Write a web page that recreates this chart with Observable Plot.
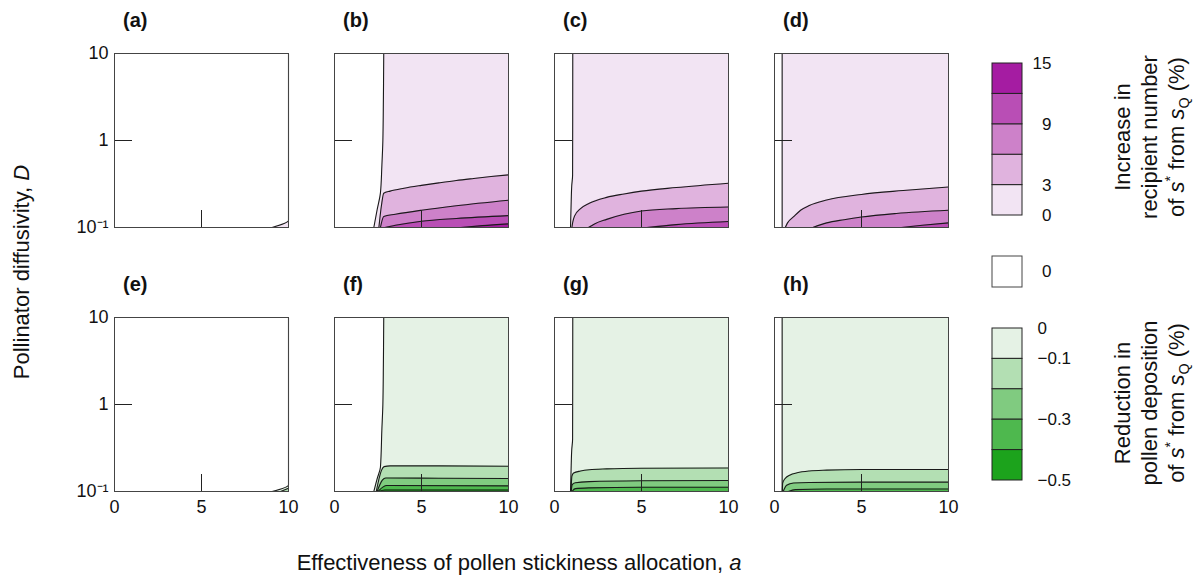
<!DOCTYPE html>
<html><head><meta charset="utf-8">
<script src="https://cdn.jsdelivr.net/npm/d3@7"></script>
<script src="https://cdn.jsdelivr.net/npm/@observablehq/plot@0.6"></script>
<style>
body{margin:0;background:#fff;font-family:'Liberation Sans',Arial,sans-serif;color:#111;}
#root{position:relative;width:1195px;height:580px;overflow:hidden;}
.pl{position:absolute;}
.plab{position:absolute;font-weight:bold;font-size:20px;line-height:20px;}
.rot{position:absolute;transform:translate(-50%,-50%) rotate(-90deg);white-space:nowrap;text-align:center;}
.hz{position:absolute;transform:translate(-50%,-50%);white-space:nowrap;}
sup,sub{font-size:0.65em;line-height:0;}
</style></head><body><div id="root"></div><script>
// ---------- data ----------
const xDomain = [0, 10];
const yDomain = [0.1, 10];
const xTickLabels = [0, 5, 10];
const yTickValues = [0.1, 1, 10];
const yTickLabels = ["10\u207B\u00B9", "1", "10"];
const innerTickX = [5];
const innerTickY = [1];
const panelLetters = ["(a)", "(b)", "(c)", "(d)", "(e)", "(f)", "(g)", "(h)"];

const purpleColors = ["#f2e4f3", "#e0b3de", "#cd81c9", "#b94eb5", "#a51ca2"];
const greenColors  = ["#e5f2e5", "#b3dfb3", "#80cb80", "#4eb84e", "#1ca31c"];
const purpleBreaks = [0, 3, 6, 9, 12, 15];
const purpleLabels = [0, 3, 9, 15];
const greenBreaks  = [0, -0.1, -0.2, -0.3, -0.4, -0.5];
const greenLabels  = [0, -0.1, -0.3, -0.5];

// boundary of the white (zero) region: [a, D], D increasing
const boundA = [[9.06, 0.1], [10, 0.12], [10, 10]];
const boundB = [[2.26, 0.1], [2.45, 0.16], [2.64, 0.25], [2.72, 0.5], [2.78, 1], [2.81, 3], [2.83, 10]];
const boundC = [[0.92, 0.1], [0.96, 0.2], [0.99, 0.3], [1.04, 0.4], [1.05, 10]];
const boundD = [[0.44, 0.1], [0.44, 10]];
const boundE = [[9.06, 0.1], [10, 0.119], [10, 10]];
const boundF = [[2.26, 0.1], [2.45, 0.14], [2.64, 0.19], [2.72, 0.5], [2.78, 1], [2.81, 3], [2.83, 10]];
const boundG = [[0.92, 0.1], [0.96, 0.2], [0.99, 0.3], [1.04, 0.4], [1.05, 10]];
const boundH = [[0.44, 0.1], [0.44, 10]];

// contour lines [a, D] for levels 3, 6, 9, 12 (%)
const b3 = [[2.55, 0.1], [2.7, 0.18], [2.83, 0.248], [3.2, 0.262], [4, 0.283], [5, 0.305], [6, 0.326], [7, 0.347], [8, 0.366], [9, 0.385], [10, 0.403]];
const b6 = [[2.64, 0.1], [2.83, 0.134], [3.5, 0.142], [5, 0.158], [7, 0.178], [10, 0.206]];
const b9 = [[2.9, 0.1], [3.5, 0.106], [5, 0.118], [7, 0.127], [10, 0.137]];
const b12 = [[7.27, 0.1], [8.5, 0.105], [10, 0.11]];
const c3 = [[1.0, 0.1], [1.05, 0.115], [1.15, 0.135], [1.5, 0.165], [2, 0.19], [3, 0.222], [4, 0.243], [5, 0.262], [7, 0.288], [10, 0.323]];
const c6 = [[1.95, 0.1], [2.3, 0.11], [3, 0.124], [4, 0.142], [5, 0.155], [7, 0.165], [10, 0.172]];
const c9 = [[5.3, 0.1], [7, 0.108], [10, 0.117]];
const d3c = [[0.62, 0.1], [0.75, 0.113], [1.1, 0.133], [1.5, 0.158], [2, 0.179], [3, 0.207], [5, 0.24], [7.4, 0.266], [10, 0.292]];
const d6 = [[2.2, 0.1], [3, 0.113], [4, 0.123], [5, 0.132], [7, 0.145], [10, 0.158]];
const d9 = [[7.3, 0.1], [8.5, 0.106], [10, 0.113]];

// contour lines [a, D] for levels -0.1, -0.2, -0.3, -0.4 (%)
const e1 = [[9.55, 0.1], [10, 0.109]];
const f1 = [[2.4, 0.1], [2.7, 0.175], [2.85, 0.193], [3.2, 0.197], [6, 0.197], [10, 0.195]];
const f2 = [[2.45, 0.1], [2.75, 0.135], [2.95, 0.143], [6, 0.142], [10, 0.141]];
const f3 = [[2.5, 0.1], [2.8, 0.113], [3.0, 0.117], [10, 0.116]];
const f4 = [[2.55, 0.1], [2.9, 0.104], [10, 0.104]];
const g1 = [[0.95, 0.1], [1.0, 0.15], [1.1, 0.163], [1.5, 0.172], [2, 0.178], [3, 0.182], [5, 0.185], [10, 0.186]];
const g2 = [[0.96, 0.1], [1.02, 0.12], [1.2, 0.126], [2, 0.13], [5, 0.133], [10, 0.134]];
const g3 = [[1.0, 0.1], [1.2, 0.108], [2, 0.11], [5, 0.112], [10, 0.112]];
const h1 = [[0.45, 0.1], [0.47, 0.125], [0.6, 0.14], [0.9, 0.155], [1.3, 0.164], [2, 0.172], [3, 0.176], [5, 0.179], [10, 0.179]];
const h2 = [[0.5, 0.1], [0.7, 0.118], [1.1, 0.125], [2, 0.127], [5, 0.128], [10, 0.128]];
const h3 = [[0.8, 0.1], [1.2, 0.105], [3, 0.107], [10, 0.107]];

const panelLefts = [114, 334, 554, 774];
const rowTops = [53, 317];

const panels = [
  {bound: boundA, contours: [], colors: purpleColors},
  {bound: boundB, contours: [b3, b6, b9, b12], colors: purpleColors},
  {bound: boundC, contours: [c3, c6, c9], colors: purpleColors},
  {bound: boundD, contours: [d3c, d6, d9], colors: purpleColors},
  {bound: boundE, contours: [e1], colors: greenColors},
  {bound: boundF, contours: [f1, f2, f3, f4], colors: greenColors},
  {bound: boundG, contours: [g1, g2, g3], colors: greenColors},
  {bound: boundH, contours: [h1, h2, h3], colors: greenColors}
];

// ---------- drawing ----------
const FONT = "'Liberation Sans', Arial, sans-serif";
const TICK_FS = 18;
const root = document.getElementById("root");
const W = 174, H = 174, ML = 44, MT = 2, MR = 2, MB = 34;

function makePanel(p, showY, showX) {
  const marks = [
    Plot.frame({fill: p.colors[0]}),
    ...p.contours.map((c, i) => Plot.areaY(c, {x: d => d[0], y1: () => yDomain[0], y2: d => d[1], fill: p.colors[i + 1], curve: "monotone-x"})),
    Plot.areaX(p.bound, {y: d => d[1], x1: () => xDomain[0], x2: d => d[0], fill: "white", curve: "monotone-y"}),
    ...p.contours.map(c => Plot.line(c, {x: d => d[0], y: d => d[1], stroke: "#1a1a1a", strokeWidth: 1.1, curve: "monotone-x"})),
    Plot.line(p.bound, {x: d => d[0], y: d => d[1], stroke: "#1a1a1a", strokeWidth: 1.1, curve: "monotone-y"}),
    Plot.tickX(innerTickX, {x: d => d, insetTop: H - 17, stroke: "#222", strokeWidth: 1}),
    Plot.tickY(innerTickY, {y: d => d, insetRight: W - 18, stroke: "#222", strokeWidth: 1}),
    Plot.frame({stroke: "#444", strokeWidth: 1})
  ];
  if (showY) marks.push(Plot.text(yTickValues, {y: d => d, text: (d, i) => yTickLabels[i], frameAnchor: "left", textAnchor: "end", dx: -6, fontSize: TICK_FS, fill: "#111"}));
  if (showX) marks.push(Plot.text(xTickLabels, {x: d => d, text: d => String(d), frameAnchor: "bottom", lineAnchor: "top", dy: 9, fontSize: TICK_FS, fill: "#111"}));
  return Plot.plot({
    width: ML + W + MR, height: MT + H + MB,
    marginLeft: ML, marginTop: MT, marginRight: MR, marginBottom: MB,
    x: {domain: xDomain, axis: null},
    y: {type: "log", domain: yDomain, axis: null},
    style: {fontFamily: FONT, fontSize: TICK_FS + "px", background: "transparent", overflow: "visible"},
    marks
  });
}

panels.forEach((p, k) => {
  const row = Math.floor(k / 4), col = k % 4;
  const svg = makePanel(p, col === 0, row === 1);
  svg.classList.add("pl");
  svg.style.left = (panelLefts[col] - ML) + "px";
  svg.style.top = (rowTops[row] - MT) + "px";
  root.appendChild(svg);
  const lab = document.createElement("div");
  lab.className = "plab";
  lab.textContent = panelLetters[k];
  lab.style.left = (panelLefts[col] + 9) + "px";
  lab.style.top = (rowTops[row] - 43) + "px";
  root.appendChild(lab);
});

const fmt = d => d < 0 ? "\u2212" + Math.abs(d) : String(d);

function colorbar(breaks, colors, labels, anchor, dx) {
  const bins = colors.map((c, i) => ({lo: breaks[i], hi: breaks[i + 1], c}));
  return Plot.plot({
    width: 100, height: 154, marginLeft: 1, marginRight: 69, marginTop: 1, marginBottom: 1,
    x: {domain: [0, 1], axis: null},
    y: {domain: d3.extent(breaks), axis: null},
    color: {type: "identity"},
    style: {fontFamily: FONT, fontSize: "17px", background: "transparent", overflow: "visible"},
    marks: [
      Plot.rect(bins, {x1: 0, x2: 1, y1: "lo", y2: "hi", fill: "c", stroke: "#222", strokeWidth: 1}),
      Plot.text(labels, {y: d => d, text: fmt, frameAnchor: "right", textAnchor: anchor, dx, fontSize: 17, fill: "#111"})
    ]
  });
}

const pbar = colorbar(purpleBreaks, purpleColors, purpleLabels, "end", 29);
pbar.classList.add("pl"); pbar.style.left = "991px"; pbar.style.top = "62px"; root.appendChild(pbar);
const gbar = colorbar(greenBreaks, greenColors, greenLabels, "start", 15);
gbar.classList.add("pl"); gbar.style.left = "991px"; gbar.style.top = "327px"; root.appendChild(gbar);

const zeroBox = Plot.plot({
  width: 100, height: 33, marginLeft: 1, marginRight: 69, marginTop: 1, marginBottom: 1,
  x: {domain: [0, 1], axis: null}, y: {domain: [0, 1], axis: null},
  style: {fontFamily: FONT, fontSize: "17px", background: "transparent", overflow: "visible"},
  marks: [
    Plot.rect([0], {x1: 0, x2: 1, y1: 0, y2: 1, fill: "white", stroke: "#444"}),
    Plot.text(["0"], {text: d => d, frameAnchor: "right", textAnchor: "end", dx: 29, fontSize: 17, fill: "#111"})
  ]
});
zeroBox.classList.add("pl"); zeroBox.style.left = "991px"; zeroBox.style.top = "255px"; root.appendChild(zeroBox);

function addHtml(cls, html, x, y, size, lh) {
  const d = document.createElement("div");
  d.className = cls; d.innerHTML = html;
  d.style.left = x + "px"; d.style.top = y + "px"; d.style.fontSize = size + "px";
  if (lh) d.style.lineHeight = lh + "px";
  root.appendChild(d);
}
addHtml("rot", "Pollinator diffusivity, <i>D</i>", 22, 272, 22);
addHtml("hz", "Effectiveness of pollen stickiness allocation, <i>a</i>", 519, 563, 22);
addHtml("rot", "Increase in<br>recipient number<br>of <i>s</i><sup>*</sup> from <i>s</i><sub>Q</sub> (%)", 1149, 137, 22, 27);
addHtml("rot", "Reduction in<br>pollen deposition<br>of <i>s</i><sup>*</sup> from <i>s</i><sub>Q</sub> (%)", 1149, 403, 22, 27);
</script></body></html>
